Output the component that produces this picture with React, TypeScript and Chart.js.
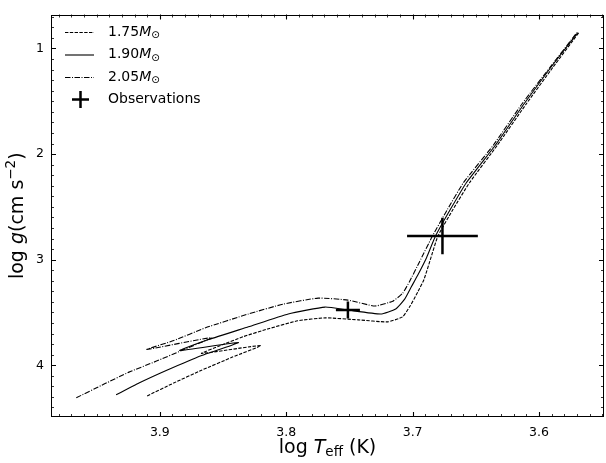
import React, { useEffect, useRef } from 'react';
import { Chart, registerables } from 'chart.js';
Chart.register(...registerables);

// 1.75 Msun track (dashed)
const m175X = [3.910, 3.889, 3.867, 3.843, 3.820, 3.867, 3.852, 3.834, 3.814, 3.791, 3.769, 3.743, 3.720, 3.708, 3.702, 3.696, 3.691, 3.686, 3.680, 3.668, 3.655, 3.633, 3.610, 3.589, 3.5685];
const m175Y = [4.290, 4.168, 4.047, 3.925, 3.813, 3.888, 3.813, 3.729, 3.654, 3.579, 3.551, 3.570, 3.589, 3.542, 3.439, 3.308, 3.187, 3.000, 2.776, 2.523, 2.271, 1.916, 1.523, 1.178, 0.850];
// 1.90 Msun track (solid)
const m190X = [3.9346, 3.9165, 3.8945, 3.8669, 3.8378, 3.8843, 3.8614, 3.8299, 3.7984, 3.7693, 3.7512, 3.7252, 3.7134, 3.7063, 3.7008, 3.6961, 3.6890, 3.6819, 3.6701, 3.6575, 3.6346, 3.6118, 3.5906, 3.5693];
const m190Y = [4.280, 4.168, 4.047, 3.907, 3.785, 3.860, 3.757, 3.636, 3.514, 3.449, 3.477, 3.514, 3.467, 3.374, 3.252, 3.150, 2.981, 2.776, 2.523, 2.271, 1.916, 1.523, 1.178, 0.850];
// 2.05 Msun track (dash-dot)
const m205X = [3.9661, 3.9441, 3.9244, 3.9031, 3.8827, 3.8591, 3.9102, 3.8890, 3.8638, 3.8299, 3.8024, 3.7748, 3.7512, 3.7299, 3.7157, 3.7079, 3.7024, 3.6945, 3.6843, 3.6724, 3.6598, 3.6362, 3.6134, 3.5913, 3.5701];
const m205Y = [4.308, 4.178, 4.065, 3.963, 3.860, 3.738, 3.850, 3.766, 3.645, 3.514, 3.421, 3.364, 3.383, 3.439, 3.393, 3.318, 3.206, 3.019, 2.776, 2.523, 2.271, 1.916, 1.523, 1.178, 0.850];

// Observations with errors
const obsX = [3.7512, 3.6764];
const obsY = [3.477, 2.776];
const obsXErr = [0.0095, 0.028];
const obsYErr = [0.08, 0.173];

const xTicks = [3.9, 3.8, 3.7, 3.6];
const yTicks = [1, 2, 3, 4];
const massLabels = ['1.75', '1.90', '2.05'];
const obsLabel = 'Observations';

const FAM = '"DejaVu Sans", sans-serif';
const DASH = [3.4, 1.4];
const DASHDOT = [5.5, 1.5, 1, 1.5];

type Part = { text: string; font: string; dy?: number };

function drawRich(ctx: CanvasRenderingContext2D, parts: Part[], x: number, y: number, align: 'left' | 'center') {
  let total = 0;
  for (const p of parts) { ctx.font = p.font; total += ctx.measureText(p.text).width; }
  let cx = align === 'center' ? x - total / 2 : x;
  ctx.textBaseline = 'middle';
  ctx.textAlign = 'left';
  for (const p of parts) {
    ctx.font = p.font;
    ctx.fillText(p.text, cx, y + (p.dy || 0));
    cx += ctx.measureText(p.text).width;
  }
}

const decorPlugin = {
  id: 'decor',
  afterDraw(chart: any) {
    const ctx: CanvasRenderingContext2D = chart.ctx;
    const { left, right, top, bottom } = chart.chartArea;
    const xs = chart.scales.x;
    const ys = chart.scales.y;
    ctx.save();
    ctx.strokeStyle = '#000';
    ctx.fillStyle = '#000';
    // frame
    ctx.lineWidth = 1;
    ctx.strokeRect(Math.round(left) + 0.5, Math.round(top) + 0.5, Math.round(right) - Math.round(left) - 1, Math.round(bottom) - Math.round(top) - 1);
    // x ticks
    const xmin = Math.min(xs.min, xs.max), xmax = Math.max(xs.min, xs.max);
    for (let i = Math.ceil(xmin * 100); i <= Math.floor(xmax * 100); i++) {
      const major = i % 10 === 0;
      const len = major ? 5 : 3;
      ctx.lineWidth = major ? 1.1 : 0.8;
      const px = Math.round(xs.getPixelForValue(i / 100)) + 0.5;
      ctx.beginPath();
      ctx.moveTo(px, bottom); ctx.lineTo(px, bottom - len);
      ctx.moveTo(px, top); ctx.lineTo(px, top + len);
      ctx.stroke();
    }
    const ymin = Math.min(ys.min, ys.max), ymax = Math.max(ys.min, ys.max);
    for (let i = Math.ceil(ymin * 10); i <= Math.floor(ymax * 10); i++) {
      const major = i % 10 === 0;
      const len = major ? 5 : 3;
      ctx.lineWidth = major ? 1.1 : 0.8;
      const py = Math.round(ys.getPixelForValue(i / 10)) + 0.5;
      ctx.beginPath();
      ctx.moveTo(left, py); ctx.lineTo(left + len, py);
      ctx.moveTo(right, py); ctx.lineTo(right - len, py);
      ctx.stroke();
    }
    // legend
    const rowY0 = 32, rowStep = 22.5;
    const dashes = [DASH, [], DASHDOT];
    for (let i = 0; i < 3; i++) {
      const ry = rowY0 + rowStep * i;
      ctx.lineWidth = 1.1;
      ctx.setLineDash(dashes[i]);
      ctx.beginPath();
      ctx.moveTo(65, ry + 0.5); ctx.lineTo(94, ry + 0.5);
      ctx.stroke();
      ctx.setLineDash([]);
      drawRich(ctx, [
        { text: massLabels[i], font: `14px ${FAM}` },
        { text: 'M', font: `italic 14px ${FAM}` },
        { text: '\u2299', font: `10.5px ${FAM}`, dy: 3.5 },
      ], 108, ry, 'left');
    }
    const oy = rowY0 + rowStep * 3;
    ctx.lineWidth = 2.5;
    ctx.beginPath();
    ctx.moveTo(72, oy); ctx.lineTo(89, oy);
    ctx.moveTo(80.5, oy - 8.5); ctx.lineTo(80.5, oy + 8.5);
    ctx.stroke();
    drawRich(ctx, [{ text: obsLabel, font: `14px ${FAM}` }], 108, oy, 'left');
    // axis titles
    drawRich(ctx, [
      { text: 'log ', font: `19px ${FAM}` },
      { text: 'T', font: `italic 19px ${FAM}` },
      { text: 'eff', font: `13.5px ${FAM}`, dy: 4 },
      { text: ' (K)', font: `19px ${FAM}` },
    ], (left + right) / 2, 448, 'center');
    ctx.save();
    ctx.translate(18, (top + bottom) / 2);
    ctx.rotate(-Math.PI / 2);
    drawRich(ctx, [
      { text: 'log ', font: `19px ${FAM}` },
      { text: 'g', font: `italic 19px ${FAM}` },
      { text: '(cm s', font: `19px ${FAM}` },
      { text: '\u22122', font: `13.5px ${FAM}`, dy: -7 },
      { text: ')', font: `19px ${FAM}` },
    ], 0, 0, 'center');
    ctx.restore();
    ctx.restore();
  },
};

function track(xs: number[], ys: number[], dash: number[]) {
  return {
    data: xs.map((x, i) => ({ x, y: ys[i] })),
    showLine: true,
    borderColor: '#000',
    borderWidth: 1.1,
    borderDash: dash,
    pointRadius: 0,
    fill: false,
    tension: 0.15,
  };
}

function errSeg(pts: { x: number; y: number }[]) {
  return {
    data: pts,
    showLine: true,
    borderColor: '#000',
    borderWidth: 2.5,
    pointRadius: 0,
    fill: false,
    tension: 0,
    borderCapStyle: 'butt',
  };
}

export default function App() {
  const ref = useRef<HTMLCanvasElement | null>(null);
  useEffect(() => {
    document.body.style.margin = '0';
    const errSets: any[] = [];
    obsX.forEach((x, i) => {
      errSets.push(errSeg([{ x: x - obsXErr[i], y: obsY[i] }, { x: x + obsXErr[i], y: obsY[i] }]));
      errSets.push(errSeg([{ x, y: obsY[i] - obsYErr[i] }, { x, y: obsY[i] + obsYErr[i] }]));
    });
    const chart = new Chart(ref.current as HTMLCanvasElement, {
      type: 'scatter',
      data: {
        datasets: [
          track(m175X, m175Y, DASH),
          track(m190X, m190Y, []),
          track(m205X, m205Y, DASHDOT),
          ...errSets,
        ] as any,
      },
      options: {
        animation: false,
        responsive: false,
        layout: { padding: { top: 10, right: 2, left: 0, bottom: 0 } },
        plugins: { legend: { display: false }, tooltip: { enabled: false } },
        scales: {
          x: {
            type: 'linear',
            reverse: true,
            min: 3.5486,
            max: 3.9861,
            afterBuildTicks: (s: any) => { s.ticks = xTicks.map((v) => ({ value: v })); },
            afterFit: (s: any) => { s.height = 46; },
            ticks: {
              font: { family: FAM, size: 12.5 },
              color: '#000',
              padding: 8,
              maxRotation: 0,
              autoSkip: false,
              callback: (v: any) => Number(v).toFixed(1),
            },
            grid: { display: false, drawTicks: false },
            border: { display: false },
          },
          y: {
            type: 'linear',
            reverse: true,
            min: 0.678,
            max: 4.49,
            afterBuildTicks: (s: any) => { s.ticks = yTicks.map((v) => ({ value: v })); },
            afterFit: (s: any) => { s.width = 51; },
            ticks: {
              font: { family: FAM, size: 12.5 },
              color: '#000',
              padding: 7,
              autoSkip: false,
              callback: (v: any) => String(v),
            },
            grid: { display: false, drawTicks: false },
            border: { display: false },
          },
        },
      } as any,
      plugins: [decorPlugin],
    });
    return () => chart.destroy();
  }, []);
  return (
    <div style={{ position: 'absolute', left: 0, top: 0, width: 606, height: 463, background: '#fff' }}>
      <canvas ref={ref} width={606} height={463} style={{ display: 'block' }} />
    </div>
  );
}
